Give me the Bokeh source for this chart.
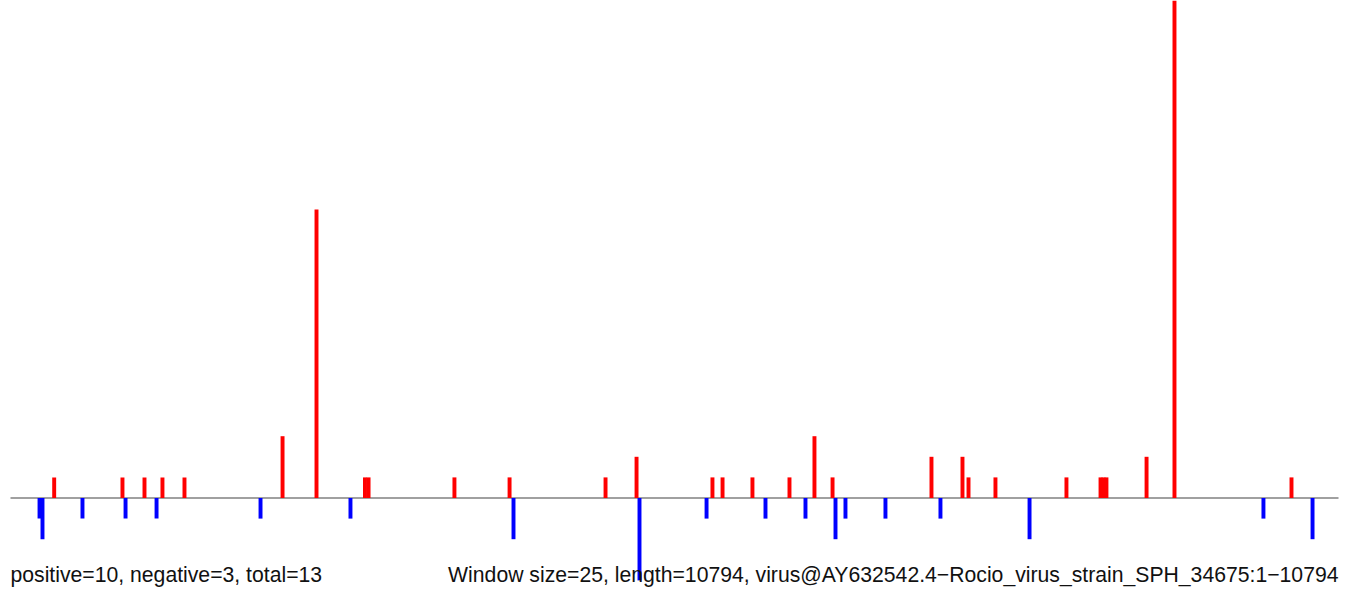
from bokeh.plotting import figure
from bokeh.models import Range1d, Label
from bokeh.embed import file_html
from bokeh.resources import INLINE

# ---- data (window start positions along the sequence, counts) ----
seq_length = 10794
window_size = 25
red_pos = [356, 911, 1090, 1236, 1415, 2212, 2488, 2882, 2911, 3609, 4057, 4837,
           5089, 5706, 5788, 6031, 6332, 6535, 6682, 7486, 7738, 7787, 8006, 8583,
           8860, 8884, 8908, 9234, 9461, 10412]
red_val = [1, 1, 1, 1, 1, 3, 14, 1, 1, 1, 1, 1,
           2, 1, 1, 1, 1, 3, 1, 2, 2, 1, 1, 1,
           1, 1, 1, 2, 25, 1]
blue_pos = [237, 261, 586, 936, 1188, 2033, 2764, 4089, 5113, 5658, 6137, 6462,
            6706, 6787, 7112, 7559, 8283, 10184, 10583]
blue_val = [1, 2, 1, 1, 1, 1, 1, 2, 4, 1, 1, 1,
            2, 1, 1, 1, 2, 1, 2]
left_text = "positive=10, negative=3, total=13"
right_text = ("Window size=25, length=10794, "
              "virus@AY632542.4\u2212Rocio_virus_strain_SPH_34675:1\u221210794")

W, H = 1350, 592
x_left_px, x_right_px = 10, 1338          # where positions 1 and seq_length fall
px_per_unit_x = (x_right_px - x_left_px) / (seq_length - 1)
unit_px = 20.6
base_from_bottom = H - 497.5

p = figure(width=W, height=H, output_backend="svg", toolbar_location=None,
           min_border=0, min_border_left=0, min_border_right=0,
           min_border_top=0, min_border_bottom=0)
p.x_range = Range1d(1 - x_left_px / px_per_unit_x,
                    seq_length + (W - x_right_px) / px_per_unit_x)
p.y_range = Range1d(-base_from_bottom / unit_px, (H - base_from_bottom) / unit_px)
p.axis.visible = False
p.grid.visible = False
p.outline_line_color = None
p.background_fill_color = "white"
p.border_fill_color = "white"

# baseline
p.segment(x0=[1], y0=[0], x1=[seq_length], y1=[0], line_color="#A0A0A0", line_width=2)

bar_w = 32
p.vbar(x=red_pos, top=red_val, bottom=0, width=bar_w, fill_color="#FF0000",
       line_color=None)
p.vbar(x=blue_pos, top=[-v for v in blue_val], bottom=0, width=bar_w,
       fill_color="#0000FF", line_color=None)

p.add_layout(Label(x=10, y=18, x_units="screen", y_units="screen", text=left_text,
                   text_font="Liberation Sans", text_font_size="21.2px",
                   text_color="#111111", text_align="left",
                   text_baseline="alphabetic"))
p.add_layout(Label(x=1338, y=18, x_units="screen", y_units="screen", text=right_text,
                   text_font="Liberation Sans", text_font_size="21.2px",
                   text_color="#111111", text_align="right",
                   text_baseline="alphabetic"))

open("out.html", "w").write(file_html(p, INLINE))
